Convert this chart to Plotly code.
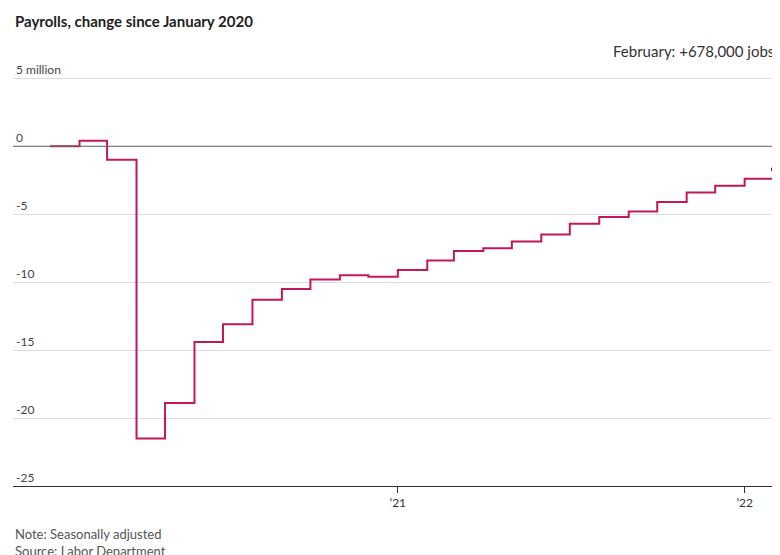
import plotly.graph_objects as go
import pandas as pd

months = pd.date_range("2020-01-01", "2022-02-01", freq="MS")
change = [0.0, 0.4, -1.0, -21.5, -18.9, -14.4, -13.1, -11.3, -10.5, -9.8, -9.5, -9.6,
          -9.1, -8.4, -7.7, -7.5, -7.0, -6.5, -5.7, -5.2, -4.8, -4.1, -3.4, -2.9,
          -2.4, -1.7]
ytick_vals = [5, 0, -5, -10, -15, -20, -25]
ytick_text = ["5 million", "0", "-5", "-10", "-15", "-20", "-25"]
xtick_vals = ["2020-01-01", "2021-01-01", "2022-01-01"]
xtick_text = ["2020", "’21", "’22"]

font = "Lato"
fig = go.Figure()
fig.add_scatter(x=months, y=change, mode="lines", line_shape="hv",
                line=dict(color="#c2185b", width=2), hoverinfo="skip")
fig.add_scatter(x=[months[-1]], y=[change[-1]], mode="markers",
                marker=dict(color="#222", size=6), hoverinfo="skip")
fig.add_shape(type="line", x0=months[-1], x1=months[-1], y0=change[-1], y1=1,
              yref="paper", xref="x", line=dict(color="#222", width=1))
fig.add_shape(type="line", x0=0, x1=1, xref="paper", y0=0, y1=0, yref="y",
              line=dict(color="#666", width=1.2))
fig.add_annotation(x=1, xref="paper", y=1.0, yref="paper", yanchor="bottom",
                   xanchor="right", text="February: +678,000 jobs", showarrow=False,
                   font=dict(size=15, color="#333", family=font))
fig.add_annotation(x=0, xref="paper", y=1.127, yref="paper", yanchor="top", xanchor="left",
                   text="<b>Payrolls, change since January 2020</b>", showarrow=False,
                   font=dict(size=15, color="#222", family=font), yshift=-2)
fig.add_annotation(x=0, xref="paper", y=-0.182, yref="paper", yanchor="bottom", xanchor="left",
                   text="Note: Seasonally adjusted<br>Source: Labor Department", showarrow=False,
                   align="left", font=dict(size=13, color="#555", family=font), yshift=2)

fig.update_layout(
    width=780, height=555, plot_bgcolor="white", paper_bgcolor="white",
    margin=dict(l=5, r=12, t=54, b=77), showlegend=False,
    font=dict(family=font, size=12, color="#333"),
    xaxis=dict(range=["2019-11-23", "2022-02-03"], tickvals=xtick_vals, ticktext=xtick_text,
               ticks="outside", ticklen=6, tickcolor="#333", showgrid=False,
               showline=True, linecolor="#333", zeroline=False),
    yaxis=dict(range=[-25, 6.2], tickvals=ytick_vals, ticktext=ytick_text,
               ticklabelposition="inside top", gridcolor="#ddd", zeroline=False,
               showline=False),
)
fig.write_html("out.html")
